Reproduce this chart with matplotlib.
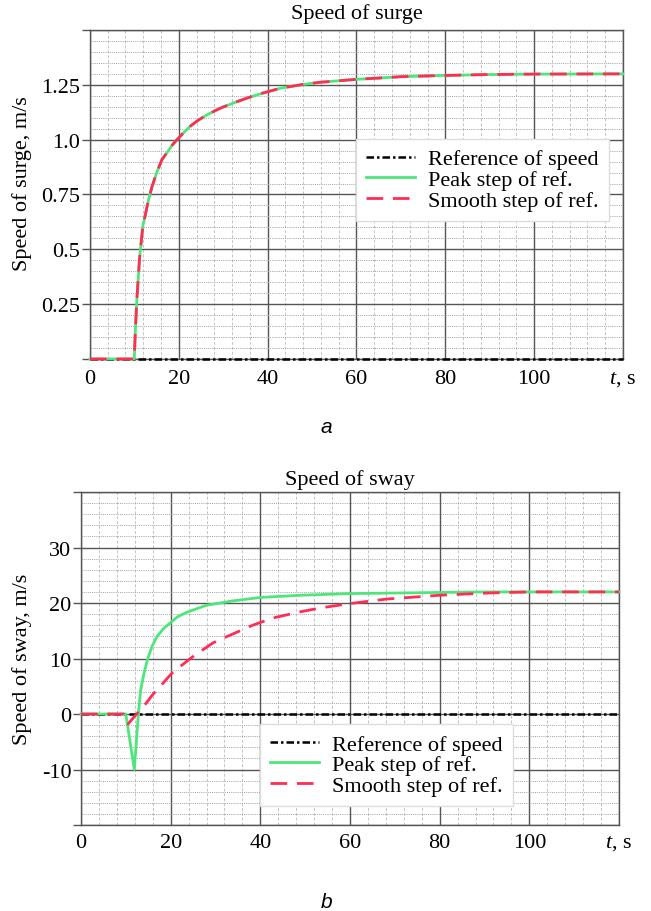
# speed of surge / speed of sway, step responses
import matplotlib
matplotlib.use("Agg")
import matplotlib.pyplot as plt
from matplotlib.ticker import MultipleLocator

plt.rcParams['font.family'] = ['Liberation Serif', 'DejaVu Serif']
plt.rcParams['mathtext.fontset'] = 'custom'
plt.rcParams['mathtext.rm'] = 'Liberation Serif'
plt.rcParams['mathtext.it'] = 'Liberation Serif:italic'
plt.rcParams['axes.unicode_minus'] = False

# data
ref_t = [0, 120]
ref_v = [0, 0]

surge_t = [0, 10, 10.05, 10.2, 10.55, 11.15, 11.9, 12.4, 13.2, 14.0, 15.0, 16.2, 17.5,
           18.5, 19.6, 21.0, 22.5, 24.1, 26.5, 29.4, 32.0, 35.4, 39.0, 43.0, 48.0,
           52.0, 60.0, 70.0, 80.0, 90.0, 100.0, 120.0]
surge_peak = [0, 0, 0.04, 0.12, 0.27, 0.455, 0.606, 0.651, 0.727, 0.788, 0.848, 0.909, 0.945,
              0.975, 1.0, 1.03, 1.06, 1.085, 1.115, 1.144, 1.165, 1.19, 1.213, 1.235, 1.252,
              1.262, 1.275, 1.287, 1.293, 1.297, 1.299, 1.3]
surge_smooth = list(surge_peak)

sway_peak_t = [0, 10, 11.9, 12.8, 13.3, 14.1, 14.9, 15.9, 17.0, 18.3, 20.0, 21.5, 23.5,
               28.0, 34.0, 40.0, 49.0, 60.0, 70.0, 80.0, 90.0, 100.0, 120.0]
sway_peak_v = [0, 0, -10, 0, 4.3, 7.5, 10.0, 12.3, 14.0, 15.3, 16.5, 17.5, 18.3,
               19.6, 20.4, 21.0, 21.4, 21.7, 21.8, 21.9, 22.0, 22.0, 22.0]

sway_smooth_t = [0, 9.5, 10.5, 12.2, 14.2, 16.0, 17.9, 20.1, 22.5, 24.9, 29.4, 32.4, 38.3,
                 42.8, 48.8, 53.3, 60.0, 68.0, 80.0, 90.6, 100.0, 120.0]
sway_smooth_v = [0, 0, -1.8, -0.2, 1.6, 3.5, 5.2, 7.2, 8.8, 10.3, 12.8, 13.9, 16.0,
                 17.3, 18.4, 19.1, 19.9, 20.7, 21.4, 21.8, 22.0, 22.0]

x_ticks = [0, 20, 40, 60, 80, 100, 120]
x_labels = ['0', '20', '40', '60', '80', '100', '$t$, s']

surge_ticks = [0, 0.25, 0.5, 0.75, 1.0, 1.25, 1.5]
surge_labels = ['', '0.25', '0.5', '0.75', '1.0', '1.25', '']
sway_ticks = [-20, -10, 0, 10, 20, 30, 40]
sway_labels = ['', '-10', '0', '10', '20', '30', '']

GREEN = '#4ee67a'
RED = '#ff2d55'
GRID = '#555555'


def setup(ax, yticks, ylabels, ylim, title, ylabel, minor_y, xpad, tpad):
    ax.set_xlim(0, 120)
    ax.set_ylim(*ylim)
    ax.set_xticks(x_ticks)
    ax.set_xticklabels(x_labels)
    ax.set_yticks(yticks)
    ax.set_yticklabels(ylabels)
    ax.xaxis.set_minor_locator(MultipleLocator(4))
    ax.yaxis.set_minor_locator(MultipleLocator(minor_y))
    ax.grid(which='major', color=GRID, lw=1.0)
    ax.grid(which='minor', axis='x', color='#c4c4c4', lw=0.7, ls=(0, (3, 2)))
    ax.grid(which='minor', axis='y', color='#a0a0a0', lw=0.7, ls=(0, (1, 1.2)))
    ax.set_axisbelow(True)
    for s in ax.spines.values():
        s.set_color(GRID)
        s.set_linewidth(1.0)
    ax.tick_params(axis='y', which='major', direction='out', length=5.5, width=1,
                   color=GRID, pad=1.5, labelsize=16)
    ax.tick_params(axis='x', which='major', length=0, pad=xpad, labelsize=16)
    ax.tick_params(which='minor', length=0)
    ax.set_title(title, fontsize=16, pad=tpad)
    ax.set_ylabel(ylabel, fontsize=16)


def draw(ax, t_peak, v_peak, t_smooth, v_smooth, legend_xy):
    ax.plot(ref_t, ref_v, color='black', lw=1.8, dashes=(3, 1.2, 1, 1.2),
            label='Reference of speed', clip_on=False, zorder=3)
    ax.plot(t_peak, v_peak, color=GREEN, lw=2.0, label='Peak step of ref.',
            clip_on=False, zorder=4)
    ax.plot(t_smooth, v_smooth, color=RED, lw=2.0, dashes=(6, 3.5),
            label='Smooth step of ref.', clip_on=False, zorder=5)
    leg = ax.legend(loc='upper left', bbox_to_anchor=legend_xy, borderaxespad=0,
                    fontsize=16, labelspacing=0.0, handlelength=2.2, handletextpad=0.6,
                    borderpad=0.45, fancybox=False, framealpha=1, edgecolor='#dddddd')
    leg.set_zorder(6)


fig = plt.figure(figsize=(6.51, 9.12), dpi=100)

ax1 = fig.add_axes([0.1382, 0.6053, 0.8187, 0.3607])
setup(ax1, surge_ticks, surge_labels, (0, 1.5), 'Speed of surge',
      'Speed of surge, m/s', 0.05, 7, 9)
draw(ax1, surge_t, surge_peak, surge_t, surge_smooth, (0.499, 0.669))
ax1.yaxis.set_label_coords(-0.109, 0.535)

ax2 = fig.add_axes([0.1244, 0.0943, 0.8264, 0.3651])
setup(ax2, sway_ticks, sway_labels, (-20, 40), 'Speed of sway',
      'Speed of sway, m/s', 2, 6, 6)
draw(ax2, sway_peak_t, sway_peak_v, sway_smooth_t, sway_smooth_v, (0.333, 0.303))
ax2.yaxis.set_label_coords(-0.091, 0.5)

fig.text(0.502, 1 - 428 / 912, 'a', family='Liberation Sans', style='italic',
         fontsize=15, ha='center', va='center')
fig.text(0.502, 1 - 903 / 912, 'b', family='Liberation Sans', style='italic',
         fontsize=15, ha='center', va='center')

fig.savefig('out.png', dpi=100)
